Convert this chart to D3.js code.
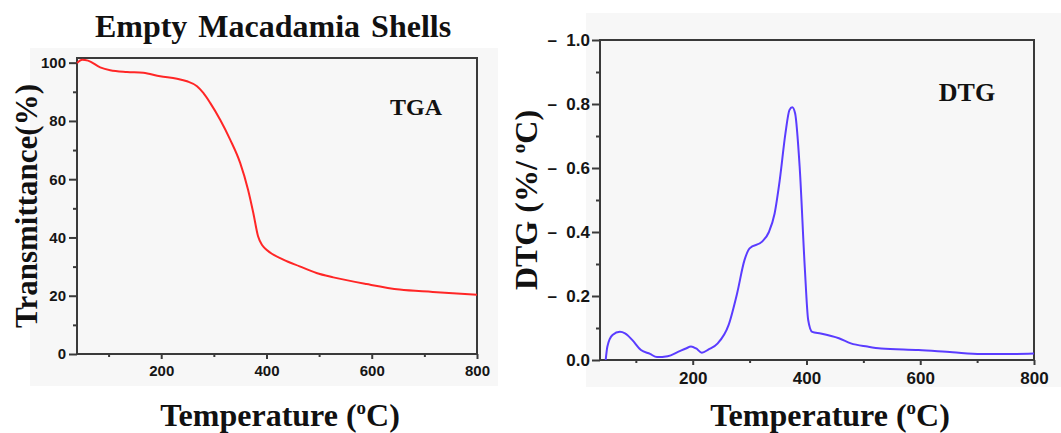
<!DOCTYPE html>
<html>
<head>
<meta charset="utf-8">
<script src="https://cdn.jsdelivr.net/npm/d3@7"></script>
<style>
  html, body { margin: 0; padding: 0; background: #ffffff; }
  svg { display: block; }
</style>
</head>
<body>
<svg id="chart" width="1061" height="433"></svg>
<script>
// ---------- data ----------
const tgaTemp = [40, 50, 61, 84, 103, 135, 166, 198, 230, 249, 268, 280, 293, 312, 331, 350, 365, 375, 384, 392, 400, 432, 463, 495, 527, 590, 653, 716, 800];
const tgaValue = [99.9, 101, 100.7, 98.4, 97.4, 96.8, 96.5, 95.3, 94.5, 93.6, 91.9, 89.6, 86.2, 80.4, 73.6, 65.6, 56.4, 48.4, 40.4, 37.3, 35.8, 32.4, 30.1, 27.8, 26.3, 24.0, 22.1, 21.3, 20.3];

const dtgTemp = [47, 50, 59, 72, 81, 94, 109, 125, 137, 156, 175, 188, 197, 206, 216, 228, 244, 263, 278, 291, 300, 322, 334, 344, 353, 363, 370, 375, 380, 388, 397, 403, 410, 425, 457, 478, 507, 531, 597, 657, 707, 769, 800];
const dtgValue = [0, 0.042, 0.078, 0.088, 0.083, 0.062, 0.031, 0.019, 0.009, 0.012, 0.026, 0.036, 0.042, 0.036, 0.023, 0.033, 0.052, 0.109, 0.208, 0.312, 0.349, 0.370, 0.400, 0.458, 0.562, 0.708, 0.781, 0.790, 0.771, 0.604, 0.290, 0.125, 0.088, 0.083, 0.068, 0.052, 0.042, 0.036, 0.031, 0.024, 0.019, 0.019, 0.020];

const tgaXTicks = [200, 400, 600, 800];
const tgaXMinor = [100, 300, 500, 700];
const tgaYTicks = [0, 20, 40, 60, 80, 100];
const tgaYMinor = [10, 30, 50, 70, 90];
const dtgXTicks = [200, 400, 600, 800];
const dtgXMinor = [100, 300, 500, 700];
const dtgYTicks = [0, 0.2, 0.4, 0.6, 0.8, 1.0];
const dtgYMinor = [0.1, 0.3, 0.5, 0.7, 0.9];

const svg = d3.select("#chart");
const SERIF = "'Liberation Serif','Times New Roman',serif";
const SANS = "'Liberation Sans',Arial,sans-serif";
const FRAME = "#3a3a3a";

// panel backgrounds
svg.append("rect").attr("x", 30).attr("y", 48).attr("width", 468).attr("height", 338).attr("fill", "#f7f7f7");
svg.append("rect").attr("x", 586).attr("y", 13).attr("width", 475).attr("height", 374).attr("fill", "#f7f7f7");

function panel(opts) {
  const g = svg.append("g");
  const x = d3.scaleLinear().domain(opts.xDomain).range([opts.left, opts.right]);
  const y = d3.scaleLinear().domain(opts.yDomain).range([opts.bottom, opts.top]);

  const xa = g.append("g").attr("transform", `translate(0,${opts.bottom})`)
    .call(d3.axisBottom(x).tickValues(opts.xTicks).tickSize(5).tickPadding(opts.xPad).tickFormat(d3.format("d")));
  const xm = g.append("g").attr("transform", `translate(0,${opts.bottom})`)
    .call(d3.axisBottom(x).tickValues(opts.xMinor).tickSize(3).tickFormat(""));
  const ya = g.append("g").attr("transform", `translate(${opts.left},0)`)
    .call(d3.axisLeft(y).tickValues(opts.yTicks).tickSize(8).tickPadding(opts.yPad).tickFormat(opts.yFormat));
  const ym = g.append("g").attr("transform", `translate(${opts.left},0)`)
    .call(d3.axisLeft(y).tickValues(opts.yMinor).tickSize(4).tickFormat(""));

  [xa, xm, ya, ym].forEach(a => {
    a.select(".domain").remove();
    a.selectAll("line").attr("stroke", FRAME).attr("stroke-width", 2);
    a.selectAll("text").attr("font-family", SANS).attr("font-weight", "bold")
      .attr("font-size", opts.tickFont).attr("fill", "#151515");
  });

  g.append("rect").attr("x", opts.left).attr("y", opts.top)
    .attr("width", opts.right - opts.left).attr("height", opts.bottom - opts.top)
    .attr("fill", "none").attr("stroke", FRAME).attr("stroke-width", 2);

  const pts = opts.xs.map((d, i) => [d, opts.ys[i]]);
  g.append("path").datum(pts)
    .attr("fill", "none").attr("stroke", opts.color).attr("stroke-width", 2)
    .attr("d", d3.line().x(d => x(d[0])).y(d => y(d[1])).curve(d3.curveMonotoneX));

  return { g, x, y };
}

panel({
  left: 77, right: 477, top: 58, bottom: 354,
  xDomain: [40, 800], yDomain: [0, 101.6],
  xTicks: tgaXTicks, xMinor: tgaXMinor, yTicks: tgaYTicks, yMinor: tgaYMinor,
  yFormat: d3.format("d"), tickFont: 15, xPad: 6, yPad: 3,
  xs: tgaTemp, ys: tgaValue, color: "#ff2626"
});

panel({
  left: 600, right: 1034, top: 40, bottom: 360,
  xDomain: [37, 800], yDomain: [0, 1.0],
  xTicks: dtgXTicks, xMinor: dtgXMinor, yTicks: dtgYTicks, yMinor: dtgYMinor,
  yFormat: d => d === 0 ? "0.0" : "–\u00a0\u00a0" + d3.format(".1f")(d), tickFont: 17, xPad: 7, yPad: 2,
  xs: dtgTemp, ys: dtgValue, color: "#5a3cff"
});

function serifText(x, y, size, rotate) {
  const t = svg.append("text")
    .attr("font-family", SERIF).attr("font-weight", "bold").attr("font-size", size)
    .attr("fill", "#111").attr("text-anchor", "middle");
  if (rotate) t.attr("transform", `translate(${x},${y}) rotate(-90)`);
  else t.attr("x", x).attr("y", y);
  return t;
}

serifText(273, 37, 32).attr("word-spacing", 3).text("Empty Macadamia Shells");
serifText(37, 206, 31, true).text("Transmittance(%)");

function tempLabel(cx) {
  const t = serifText(cx, 426, 32);
  t.append("tspan").text("Temperature (");
  t.append("tspan").attr("font-size", 19).attr("dy", -12).text("o");
  t.append("tspan").attr("dy", 12).text("C)");
}
tempLabel(280);
tempLabel(830);

const dl = serifText(537, 200, 32, true);
dl.append("tspan").text("DTG (%/ ");
dl.append("tspan").attr("font-size", 19).attr("dy", -12).text("o");
dl.append("tspan").attr("dy", 12).text("C)");

serifText(416, 115, 24).text("TGA");
serifText(967, 101, 26).text("DTG");
</script>
</body>
</html>
